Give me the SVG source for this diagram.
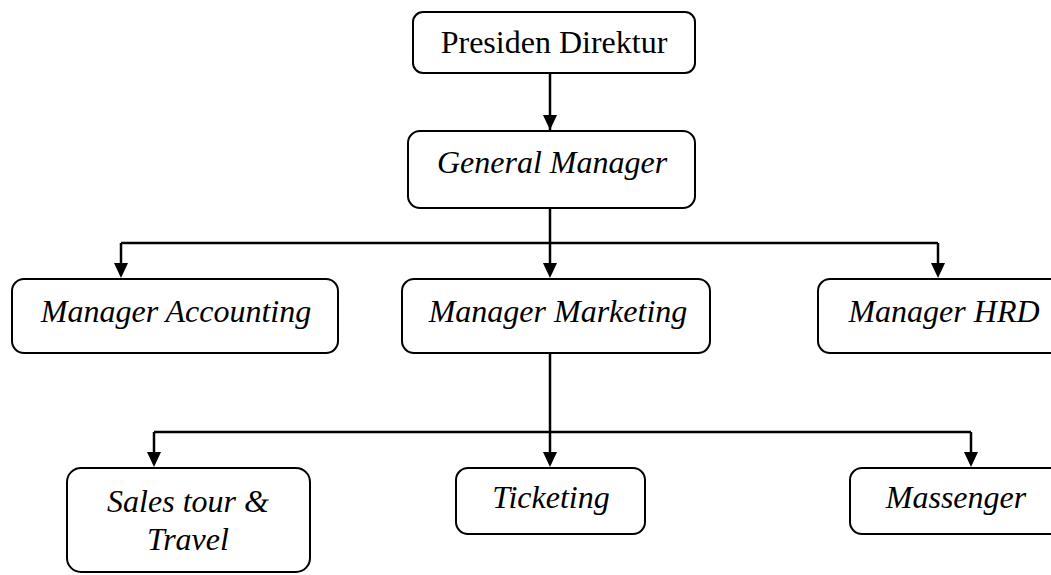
<svg xmlns="http://www.w3.org/2000/svg" width="1051" height="575" viewBox="0 0 1051 575">
<style>
.box{fill:#fff;stroke:#000;stroke-width:2}
.t{font-family:"Liberation Serif","Times New Roman",serif;font-size:32px;fill:#000;text-anchor:middle}
.i{font-style:italic}
.c{fill:none;stroke:#000;stroke-width:2.5}
</style>
<defs>
<marker id="ah" markerUnits="userSpaceOnUse" markerWidth="16" markerHeight="16" viewBox="0 0 16 16" refX="8" refY="15" orient="auto-start-reverse">
<path d="M0,0 L16,0 L8,15 Z" fill="#000" transform="rotate(0)"/>
</marker>
</defs>
<rect width="1051" height="575" fill="#fff"/>
<g id="connectors">
<line class="c" x1="550" y1="73" x2="550" y2="130"/>
<path d="M543,115 L557,115 L550,130 Z"/>
<polyline class="c" points="550,208 550,243"/>
<polyline class="c" points="121,243 938,243"/>
<line class="c" x1="121" y1="243" x2="121" y2="265"/>
<path d="M114,263 L128,263 L121,278 Z"/>
<line class="c" x1="550" y1="243" x2="550" y2="265"/>
<path d="M543,263 L557,263 L550,278 Z"/>
<line class="c" x1="938" y1="243" x2="938" y2="265"/>
<path d="M931,263 L945,263 L938,278 Z"/>
<polyline class="c" points="550,353 550,432"/>
<polyline class="c" points="154,432 971,432"/>
<line class="c" x1="154" y1="432" x2="154" y2="455"/>
<path d="M147,452 L161,452 L154,467 Z"/>
<line class="c" x1="550" y1="432" x2="550" y2="455"/>
<path d="M543,452 L557,452 L550,467 Z"/>
<line class="c" x1="971" y1="432" x2="971" y2="455"/>
<path d="M964,452 L978,452 L971,467 Z"/>
</g>
<g id="presiden">
<rect class="box" x="413" y="12" width="282" height="61" rx="10"/>
<text class="t" x="554" y="53">Presiden Direktur</text>
</g>
<g id="general">
<rect class="box" x="408" y="131" width="287" height="77" rx="12"/>
<text class="t i" x="552" y="173">General Manager</text>
</g>
<g id="accounting">
<rect class="box" x="12" y="279" width="326" height="74" rx="12"/>
<text class="t i" x="176" y="322">Manager Accounting</text>
</g>
<g id="marketing">
<rect class="box" x="402" y="279" width="308" height="74" rx="12"/>
<text class="t i" x="558" y="322">Manager Marketing</text>
</g>
<g id="hrd">
<rect class="box" x="818" y="279" width="260" height="74" rx="12"/>
<text class="t i" x="944" y="322">Manager HRD</text>
</g>
<g id="sales">
<rect class="box" x="67" y="468" width="243" height="104" rx="14"/>
<text class="t i" x="188" y="512">Sales tour &amp;</text>
<text class="t i" x="188" y="550">Travel</text>
</g>
<g id="ticketing">
<rect class="box" x="456" y="468" width="189" height="66" rx="12"/>
<text class="t i" x="551" y="508">Ticketing</text>
</g>
<g id="massenger">
<rect class="box" x="850" y="468" width="230" height="66" rx="12"/>
<text class="t i" x="956" y="508">Massenger</text>
</g>
</svg>
